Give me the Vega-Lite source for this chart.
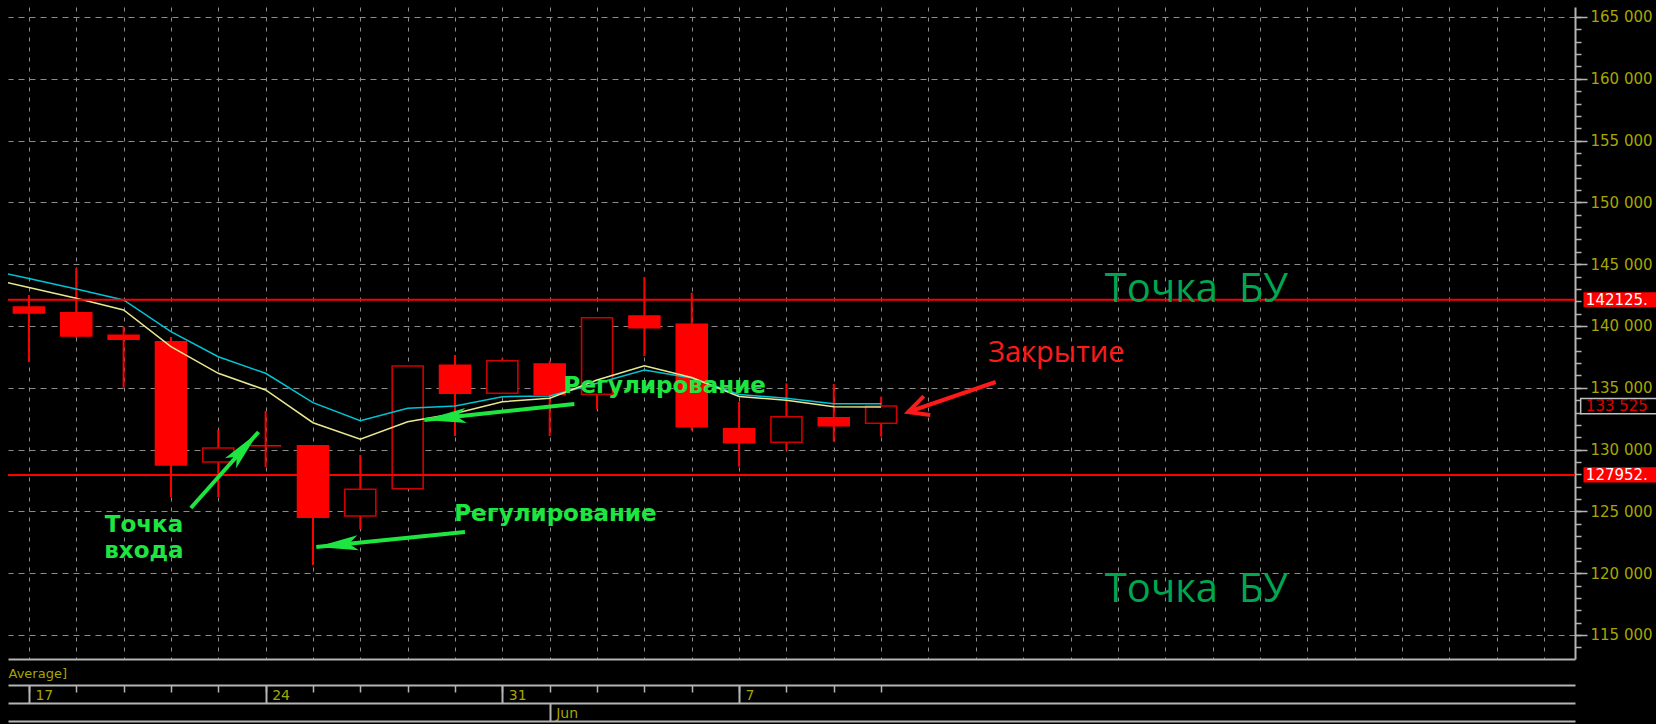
{
  "$schema": "https://vega.github.io/schema/vega-lite/v6.json",
  "width": 1567,
  "height": 652,
  "autosize": "none",
  "padding": {"left": 8, "top": 7, "right": 81, "bottom": 65},
  "background": "#000000",
  "config": {
    "view": {"stroke": null, "fill": "#000000"},
    "axis": {"labelFont": "DejaVu Sans", "titleFont": "DejaVu Sans"}
  },
  "datasets": {
    "candles": [
      {"idx": 0, "date": "2010-05-17", "open": 141537, "high": 142508, "low": 137087, "close": 141052},
      {"idx": 1, "date": "2010-05-18", "open": 141076, "high": 144693, "low": 139029, "close": 139191},
      {"idx": 2, "date": "2010-05-19", "open": 139248, "high": 139943, "low": 135008, "close": 138924},
      {"idx": 3, "date": "2010-05-20", "open": 138730, "high": 139110, "low": 126165, "close": 128754},
      {"idx": 4, "date": "2010-05-21", "open": 128997, "high": 131586, "low": 126165, "close": 130130},
      {"idx": 5, "date": "2010-05-24", "open": 130316, "high": 133123, "low": 128592, "close": 130316},
      {"idx": 6, "date": "2010-05-25", "open": 130316, "high": 130316, "low": 120664, "close": 124523},
      {"idx": 7, "date": "2010-05-26", "open": 124628, "high": 129563, "low": 123552, "close": 126788},
      {"idx": 8, "date": "2010-05-27", "open": 126837, "high": 136764, "low": 126837, "close": 136764},
      {"idx": 9, "date": "2010-05-28", "open": 136820, "high": 137654, "low": 131100, "close": 134555},
      {"idx": 10, "date": "2010-05-31", "open": 134555, "high": 137387, "low": 134555, "close": 137193},
      {"idx": 11, "date": "2010-06-01", "open": 136926, "high": 137193, "low": 131100, "close": 134474},
      {"idx": 12, "date": "2010-06-02", "open": 134474, "high": 140672, "low": 133261, "close": 140672},
      {"idx": 13, "date": "2010-06-03", "open": 140809, "high": 143964, "low": 137573, "close": 139863},
      {"idx": 14, "date": "2010-06-04", "open": 140138, "high": 142694, "low": 131529, "close": 131853},
      {"idx": 15, "date": "2010-06-07", "open": 131691, "high": 133851, "low": 128617, "close": 130558},
      {"idx": 16, "date": "2010-06-08", "open": 130591, "high": 135364, "low": 129911, "close": 132662},
      {"idx": 17, "date": "2010-06-09", "open": 132581, "high": 135307, "low": 130639, "close": 131934},
      {"idx": 18, "date": "2010-06-10", "open": 132128, "high": 134280, "low": 131044, "close": 133525}
    ],
    "ma": [
      {"idx": -1, "ma1": 144693, "ma2": 143989},
      {"idx": 0, "ma1": 143835, "ma2": 143107},
      {"idx": 1, "ma1": 142994, "ma2": 142241},
      {"idx": 2, "ma1": 142104, "ma2": 141295},
      {"idx": 3, "ma1": 139539, "ma2": 138325},
      {"idx": 4, "ma1": 137516, "ma2": 136173},
      {"idx": 5, "ma1": 136173, "ma2": 134822},
      {"idx": 6, "ma1": 133795, "ma2": 132176},
      {"idx": 7, "ma1": 132338, "ma2": 130833},
      {"idx": 8, "ma1": 133341, "ma2": 132257},
      {"idx": 9, "ma1": 133528, "ma2": 132921},
      {"idx": 10, "ma1": 134280, "ma2": 133875},
      {"idx": 11, "ma1": 134337, "ma2": 134150},
      {"idx": 12, "ma1": 135364, "ma2": 135631},
      {"idx": 13, "ma1": 136440, "ma2": 136788},
      {"idx": 14, "ma1": 135793, "ma2": 135833},
      {"idx": 15, "ma1": 134458, "ma2": 134296},
      {"idx": 16, "ma1": 134150, "ma2": 133989},
      {"idx": 17, "ma1": 133714, "ma2": 133471},
      {"idx": 18, "ma1": 133714, "ma2": 133447}
    ],
    "levels": [
      {"level": 142125, "label": "142125."},
      {"level": 127952, "label": "127952."}
    ],
    "last": [
      {"price": 133525, "label": "133 525"}
    ],
    "notes": [
      {"i": 2.43, "v": 123333, "text": "Точка\nвхода", "kind": "green"},
      {"i": 13.43, "v": 134579, "text": "Регулирование", "kind": "green"},
      {"i": 11.12, "v": 124223, "text": "Регулирование", "kind": "green"},
      {"i": 24.66, "v": 141966, "text": "Точка \u00a0БУ", "kind": "bu"},
      {"i": 24.66, "v": 117694, "text": "Точка \u00a0БУ", "kind": "bu"},
      {"i": 21.7, "v": 137112, "text": "Закрытие", "kind": "red"}
    ],
    "arrows": [
      {"from_i": 3.42, "from_v": 125275, "to_i": 4.85, "to_v": 131424, "kind": "green"},
      {"from_i": 9.21, "from_v": 123333, "to_i": 6.07, "to_v": 122120, "kind": "green"},
      {"from_i": 11.52, "from_v": 133689, "to_i": 8.35, "to_v": 132395, "kind": "green"},
      {"from_i": 20.42, "from_v": 135469, "to_i": 18.57, "to_v": 133042, "kind": "red"}
    ]
  },
  "resolve": {"axis": {"x": "independent", "y": "independent"}},
  "layer": [
    {
      "data": {"name": "candles"},
      "mark": {"type": "rule", "color": "#ff0000", "strokeWidth": 2},
      "encoding": {
        "x": {"field": "idx", "type": "quantitative",
          "scale": {"domain": [-0.336, 32.55], "nice": false, "zero": false},
          "axis": {"orient": "bottom", "offset": 0,
            "values": [0,1,2,3,4,5,6,7,8,9,10,11,12,13,14,15,16,17,18,19,20,21,22,23,24,25,26,27,28,29,30,31,32],
            "domain": true, "domainColor": "#b4b4b4", "domainWidth": 2,
            "ticks": false, "labels": false,
            "grid": true, "gridColor": "#8c8c8c", "gridDash": [4, 6], "gridWidth": 1,
            "title": "Average]", "titleX": 0, "titleY": 14, "titleAlign": "left", "titleBaseline": "middle",
            "titleAngle": 0, "titleColor": "#a6a600", "titleFontSize": 13, "titleFontWeight": "normal"}},
        "y": {"field": "low", "type": "quantitative",
          "scale": {"domain": [113058, 165809], "nice": false, "zero": false},
          "axis": {"orient": "right",
            "values": [115000,120000,125000,130000,135000,140000,145000,150000,155000,160000,165000],
            "domain": true, "domainColor": "#b4b4b4", "domainWidth": 2,
            "ticks": true, "tickColor": "#b4b4b4", "tickSize": 12, "tickWidth": 1.5,
            "labelColor": "#a6a600", "labelFontSize": 15, "labelPadding": 3,
            "labelAlign": "left", "labelBaseline": "middle",
            "labelExpr": "replace(format(datum.value, ','), ',', ' ')",
            "grid": true, "gridColor": "#8c8c8c", "gridDash": [6, 5], "gridWidth": 1,
            "title": null}},
        "y2": {"field": "high"}
      }
    },
    {
      "data": {"name": "candles"},
      "transform": [{"filter": "datum.close <= datum.open"}],
      "mark": {"type": "bar", "width": 31, "fill": "#ff0000", "stroke": "#ff0000", "strokeWidth": 1.5},
      "encoding": {
        "x": {"field": "idx", "type": "quantitative",
          "scale": {"domain": [-0.336, 32.55], "nice": false, "zero": false},
          "axis": {"orient": "bottom", "offset": 26,
            "values": [0,1,2,3,4,5,6,7,8,9,10,11,12,13,14,15,16,17,18],
            "domain": true, "domainColor": "#b4b4b4", "domainWidth": 2,
            "ticks": true, "tickColor": "#b4b4b4", "tickSize": 7, "tickWidth": 1.5,
            "labels": false, "grid": false, "title": null}},
        "y": {"field": "open", "type": "quantitative",
          "scale": {"domain": [113058, 165809], "nice": false, "zero": false},
          "axis": {"orient": "right",
            "values": [114000,115000,116000,117000,118000,119000,120000,121000,122000,123000,124000,125000,126000,127000,128000,129000,130000,131000,132000,133000,134000,135000,136000,137000,138000,139000,140000,141000,142000,143000,144000,145000,146000,147000,148000,149000,150000,151000,152000,153000,154000,155000,156000,157000,158000,159000,160000,161000,162000,163000,164000,165000],
            "domain": false, "ticks": true, "tickColor": "#b4b4b4", "tickSize": 6, "tickWidth": 1.5,
            "labels": false, "grid": false, "title": null}},
        "y2": {"field": "close"}
      }
    },
    {
      "data": {"name": "candles"},
      "transform": [{"filter": "datum.close > datum.open"}],
      "mark": {"type": "bar", "width": 31, "fill": "#000000", "stroke": "#d00000", "strokeWidth": 1.6},
      "encoding": {
        "x": {"field": "idx", "type": "quantitative",
          "scale": {"domain": [-0.336, 32.55], "nice": false, "zero": false},
          "axis": {"orient": "bottom", "offset": 26,
            "values": [0, 5, 10, 15],
            "domain": false, "ticks": true, "tickColor": "#b4b4b4", "tickSize": 18, "tickWidth": 2,
            "labels": true,
            "labelExpr": "datum.value == 0 ? '17' : datum.value == 5 ? '24' : datum.value == 10 ? '31' : datum.value == 15 ? '7' : ''",
            "labelAlign": "left", "labelBaseline": "top", "labelPadding": -15, "labelOffset": 6,
            "labelColor": "#a6a600", "labelFontSize": 14, "labelFlush": false, "labelOverlap": false,
            "grid": false, "title": null}},
        "y": {"field": "open", "type": "quantitative",
          "scale": {"domain": [113058, 165809], "nice": false, "zero": false}, "axis": null},
        "y2": {"field": "close"}
      }
    },
    {
      "data": {"name": "ma"},
      "mark": {"type": "line", "color": "#00c4d4", "strokeWidth": 1.5, "clip": true},
      "encoding": {
        "x": {"field": "idx", "type": "quantitative",
          "scale": {"domain": [-0.336, 32.55], "nice": false, "zero": false},
          "axis": {"orient": "bottom", "offset": 44,
            "values": [11],
            "domain": true, "domainColor": "#b4b4b4", "domainWidth": 2,
            "ticks": true, "tickColor": "#b4b4b4", "tickSize": 18, "tickWidth": 2,
            "labels": true, "labelExpr": "'Jun'",
            "labelAlign": "left", "labelBaseline": "top", "labelPadding": -15, "labelOffset": 6,
            "labelColor": "#a6a600", "labelFontSize": 14, "labelFlush": false, "labelOverlap": false,
            "grid": false, "title": null}},
        "y": {"field": "ma1", "type": "quantitative",
          "scale": {"domain": [113058, 165809], "nice": false, "zero": false}, "axis": null}
      }
    },
    {
      "data": {"name": "ma"},
      "mark": {"type": "line", "color": "#e8e890", "strokeWidth": 1.5, "clip": true},
      "encoding": {
        "x": {"field": "idx", "type": "quantitative",
          "scale": {"domain": [-0.336, 32.55], "nice": false, "zero": false},
          "axis": {"orient": "bottom", "offset": 62,
            "values": [0],
            "domain": true, "domainColor": "#b4b4b4", "domainWidth": 2,
            "ticks": false, "labels": false, "grid": false, "title": null}},
        "y": {"field": "ma2", "type": "quantitative",
          "scale": {"domain": [113058, 165809], "nice": false, "zero": false}, "axis": null}
      }
    },
    {
      "data": {"name": "levels"},
      "mark": {"type": "rule", "color": "#ff0000", "strokeWidth": 2},
      "encoding": {
        "y": {"field": "level", "type": "quantitative",
          "scale": {"domain": [113058, 165809], "nice": false, "zero": false}, "axis": null}
      }
    },
    {
      "data": {"name": "levels"},
      "mark": {"type": "point", "shape": "M-1,-0.19L1,-0.19L1,0.19L-1,0.19Z", "filled": true,
        "fill": "#ff0000", "size": 6400, "opacity": 1, "clip": false},
      "encoding": {
        "x": {"datum": 33.68, "type": "quantitative",
          "scale": {"domain": [-0.336, 32.55], "nice": false, "zero": false}, "axis": null},
        "y": {"field": "level", "type": "quantitative",
          "scale": {"domain": [113058, 165809], "nice": false, "zero": false}, "axis": null}
      }
    },
    {
      "data": {"name": "levels"},
      "mark": {"type": "text", "align": "left", "baseline": "middle", "font": "DejaVu Sans",
        "fontSize": 15, "fill": "#ffffff", "clip": false},
      "encoding": {
        "x": {"datum": 32.885, "type": "quantitative",
          "scale": {"domain": [-0.336, 32.55], "nice": false, "zero": false}, "axis": null},
        "y": {"field": "level", "type": "quantitative",
          "scale": {"domain": [113058, 165809], "nice": false, "zero": false}, "axis": null},
        "text": {"field": "label"}
      }
    },
    {
      "data": {"name": "last"},
      "mark": {"type": "point", "shape": "M-1,-0.19L1,-0.19L1,0.19L-1,0.19Z", "filled": false,
        "fill": "#000000", "fillOpacity": 1, "stroke": "#c0c0c0", "strokeWidth": 1.5,
        "size": 6400, "opacity": 1, "clip": false},
      "encoding": {
        "x": {"datum": 33.62, "type": "quantitative",
          "scale": {"domain": [-0.336, 32.55], "nice": false, "zero": false}, "axis": null},
        "y": {"field": "price", "type": "quantitative",
          "scale": {"domain": [113058, 165809], "nice": false, "zero": false}, "axis": null}
      }
    },
    {
      "data": {"name": "last"},
      "mark": {"type": "text", "align": "left", "baseline": "middle", "font": "DejaVu Sans",
        "fontSize": 15, "fill": "#e00000", "clip": false},
      "encoding": {
        "x": {"datum": 32.885, "type": "quantitative",
          "scale": {"domain": [-0.336, 32.55], "nice": false, "zero": false}, "axis": null},
        "y": {"field": "price", "type": "quantitative",
          "scale": {"domain": [113058, 165809], "nice": false, "zero": false}, "axis": null},
        "text": {"field": "label"}
      }
    },
    {
      "data": {"name": "arrows"},
      "mark": {"type": "rule", "strokeWidth": 4, "strokeCap": "butt"},
      "encoding": {
        "x": {"field": "from_i", "type": "quantitative",
          "scale": {"domain": [-0.336, 32.55], "nice": false, "zero": false}, "axis": null},
        "x2": {"field": "to_i"},
        "y": {"field": "from_v", "type": "quantitative",
          "scale": {"domain": [113058, 165809], "nice": false, "zero": false}, "axis": null},
        "y2": {"field": "to_v"},
        "color": {"field": "kind", "type": "nominal",
          "scale": {"domain": ["green", "red"], "range": ["#1ee641", "#ff1a1a"]}, "legend": null}
      }
    },
    {
      "data": {"name": "arrows"},
      "transform": [
        {"filter": "datum.kind == 'green'"},
        {"calculate": "atan2((datum.from_v - datum.to_v) * 0.01236, (datum.to_i - datum.from_i) * 47.65) * 180 / PI", "as": "ang"}
      ],
      "mark": {"type": "point", "shape": "M0,0L-1,-0.18L-0.78,0L-1,0.18Z", "filled": true,
        "fill": "#1ee641", "size": 7056, "opacity": 1},
      "encoding": {
        "x": {"field": "to_i", "type": "quantitative",
          "scale": {"domain": [-0.336, 32.55], "nice": false, "zero": false}, "axis": null},
        "y": {"field": "to_v", "type": "quantitative",
          "scale": {"domain": [113058, 165809], "nice": false, "zero": false}, "axis": null},
        "angle": {"field": "ang", "type": "quantitative", "scale": null}
      }
    },
    {
      "data": {"name": "arrows"},
      "transform": [
        {"filter": "datum.kind == 'red'"},
        {"calculate": "atan2((datum.from_v - datum.to_v) * 0.01236, (datum.to_i - datum.from_i) * 47.65) * 180 / PI", "as": "ang"}
      ],
      "mark": {"type": "point", "shape": "M-1,-0.5L0,0L-1,0.5", "filled": false,
        "stroke": "#ff1a1a", "strokeWidth": 4, "size": 1600, "opacity": 1},
      "encoding": {
        "x": {"field": "to_i", "type": "quantitative",
          "scale": {"domain": [-0.336, 32.55], "nice": false, "zero": false}, "axis": null},
        "y": {"field": "to_v", "type": "quantitative",
          "scale": {"domain": [113058, 165809], "nice": false, "zero": false}, "axis": null},
        "angle": {"field": "ang", "type": "quantitative", "scale": null}
      }
    },
    {
      "data": {"name": "notes"},
      "transform": [{"filter": "datum.kind == 'green'"}],
      "mark": {"type": "text", "align": "center", "baseline": "alphabetic", "font": "DejaVu Sans",
        "fontWeight": "bold", "fontSize": 23, "fill": "#1ee641", "lineBreak": "\n", "lineHeight": 26},
      "encoding": {
        "x": {"field": "i", "type": "quantitative",
          "scale": {"domain": [-0.336, 32.55], "nice": false, "zero": false}, "axis": null},
        "y": {"field": "v", "type": "quantitative",
          "scale": {"domain": [113058, 165809], "nice": false, "zero": false}, "axis": null},
        "text": {"field": "text"}
      }
    },
    {
      "data": {"name": "notes"},
      "transform": [{"filter": "datum.kind == 'bu'"}],
      "mark": {"type": "text", "align": "center", "baseline": "alphabetic", "font": "Open Sans",
        "fontSize": 40, "fill": "#00a650"},
      "encoding": {
        "x": {"field": "i", "type": "quantitative",
          "scale": {"domain": [-0.336, 32.55], "nice": false, "zero": false}, "axis": null},
        "y": {"field": "v", "type": "quantitative",
          "scale": {"domain": [113058, 165809], "nice": false, "zero": false}, "axis": null},
        "text": {"field": "text"}
      }
    },
    {
      "data": {"name": "notes"},
      "transform": [{"filter": "datum.kind == 'red'"}],
      "mark": {"type": "text", "align": "center", "baseline": "alphabetic", "font": "Open Sans",
        "fontSize": 29, "fill": "#ff1a1a"},
      "encoding": {
        "x": {"field": "i", "type": "quantitative",
          "scale": {"domain": [-0.336, 32.55], "nice": false, "zero": false}, "axis": null},
        "y": {"field": "v", "type": "quantitative",
          "scale": {"domain": [113058, 165809], "nice": false, "zero": false}, "axis": null},
        "text": {"field": "text"}
      }
    }
  ]
}
